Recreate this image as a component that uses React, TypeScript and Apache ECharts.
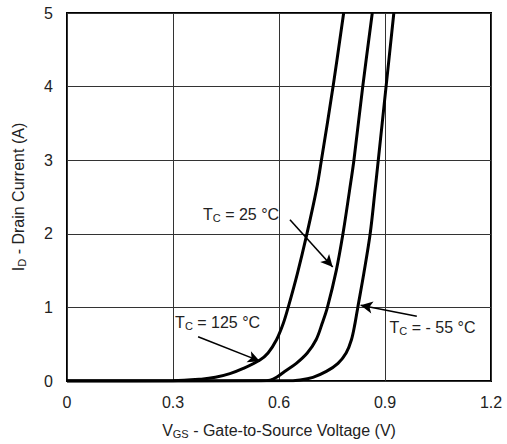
import React, { useEffect, useRef } from "react";
import * as echarts from "echarts";

const xTicks = [0, 0.3, 0.6, 0.9, 1.2];
const yTicks = [0, 1, 2, 3, 4, 5];

const curve125: [number, number][] = [
  [0, 0], [0.3, 0.003], [0.38, 0.025], [0.42, 0.05], [0.461, 0.1], [0.499, 0.17], [0.546, 0.285],
  [0.569, 0.38], [0.593, 0.56], [0.612, 0.78], [0.626, 1], [0.652, 1.46], [0.679, 2], [0.706, 2.6],
  [0.72, 3], [0.753, 4], [0.783, 5],
];
const curve25: [number, number][] = [
  [0, 0], [0.55, 0.002], [0.575, 0.012], [0.593, 0.05], [0.616, 0.13], [0.649, 0.24], [0.68, 0.38],
  [0.705, 0.56], [0.722, 0.78], [0.737, 1], [0.762, 1.5], [0.781, 2], [0.8, 2.6], [0.812, 3],
  [0.837, 4], [0.864, 5],
];
const curveM55: [number, number][] = [
  [0, 0], [0.62, 0.002], [0.66, 0.015], [0.696, 0.05], [0.734, 0.13], [0.767, 0.24], [0.79, 0.38],
  [0.805, 0.56], [0.815, 0.78], [0.823, 1], [0.84, 1.46], [0.858, 2], [0.872, 2.6], [0.881, 3],
  [0.903, 4], [0.925, 5],
];

// annotation: label text, label anchor [V, I], arrow from [V, I], arrow to [V, I]
const annLabels = ["= 25 °C", "= 125 °C", "= - 55 °C"];
const annTextAt: [number, number][] = [[0.385, 2.26], [0.306, 0.79], [0.913, 0.73]];
const annFrom: [number, number][] = [[0.631, 2.19], [0.371, 0.6], [0.99, 0.88]];
const annTo: [number, number][] = [[0.752, 1.55], [0.546, 0.27], [0.831, 1.03]];

const TXT = "#222";
const FONT = "Liberation Sans, Arial, sans-serif";

export default function App() {
  const ref = useRef<HTMLDivElement>(null);
  useEffect(() => {
    document.body.style.margin = "0";
    if (!ref.current) return;
    const chart = echarts.init(ref.current, null, { renderer: "svg" });
    const rich = {
      t: { fontSize: 16, color: TXT, fontFamily: FONT, lineHeight: 18 },
      s: { fontSize: 11, color: TXT, fontFamily: FONT, verticalAlign: "bottom", lineHeight: 10 },
    };
    const mk = (d: [number, number][]) => ({
      type: "line",
      data: d,
      smooth: 0.35,
      showSymbol: false,
      symbol: "none",
      clip: true,
      lineStyle: { color: "#000", width: 3 },
      z: 3,
    });
    chart.setOption({
      animation: false,
      grid: {
        left: 67, right: 16, top: 13, bottom: 63,
        show: true, borderColor: "#000", borderWidth: 2, backgroundColor: "transparent",
      },
      xAxis: {
        type: "value", min: 0, max: 1.2, interval: 0.3,
        name: "{t|V}{s|GS}{t| - Gate-to-Source Voltage (V)}",
        nameLocation: "middle", nameGap: 40,
        nameTextStyle: { rich },
        axisLine: { show: false },
        axisTick: { show: false },
        axisLabel: {
          margin: 13, color: TXT, fontSize: 16, fontFamily: FONT,
          formatter: (v: number) => (xTicks.includes(Math.round(v * 10) / 10) ? String(Math.round(v * 10) / 10) : ""),
        },
        splitLine: { show: true, lineStyle: { color: "#333", width: 1 } },
      },
      yAxis: {
        type: "value", min: 0, max: 5, interval: 1,
        name: "{t|I}{s|D}{t| - Drain Current (A)}",
        nameLocation: "middle", nameGap: 40,
        nameTextStyle: { rich },
        axisLine: { show: false },
        axisTick: { show: false },
        axisLabel: {
          margin: 14, color: TXT, fontSize: 16, fontFamily: FONT,
          formatter: (v: number) => (yTicks.includes(v) ? String(v) : ""),
        },
        splitLine: { show: true, lineStyle: { color: "#333", width: 1 } },
      },
      series: [
        mk(curve125),
        mk(curve25),
        mk(curveM55),
        {
          type: "line",
          data: [],
          markLine: {
            silent: true,
            symbol: ["none", "arrow"],
            symbolSize: [9, 12],
            lineStyle: { color: "#000", width: 1.6, type: "solid" },
            label: { show: false },
            data: annFrom.map((f, i) => [{ coord: f }, { coord: annTo[i] }]),
          },
          markPoint: {
            silent: true,
            symbol: "circle",
            symbolSize: 0,
            label: {
              show: true,
              position: "right",
              distance: 0,
              rich,
              formatter: (p: any) => `{t|T}{s|C}{t| ${annLabels[p.dataIndex]}}`,
            },
            data: annTextAt.map((c) => ({ coord: c })),
          },
        },
      ],
    });
    return () => chart.dispose();
  }, []);
  return <div ref={ref} style={{ width: 507, height: 444 }} />;
}
